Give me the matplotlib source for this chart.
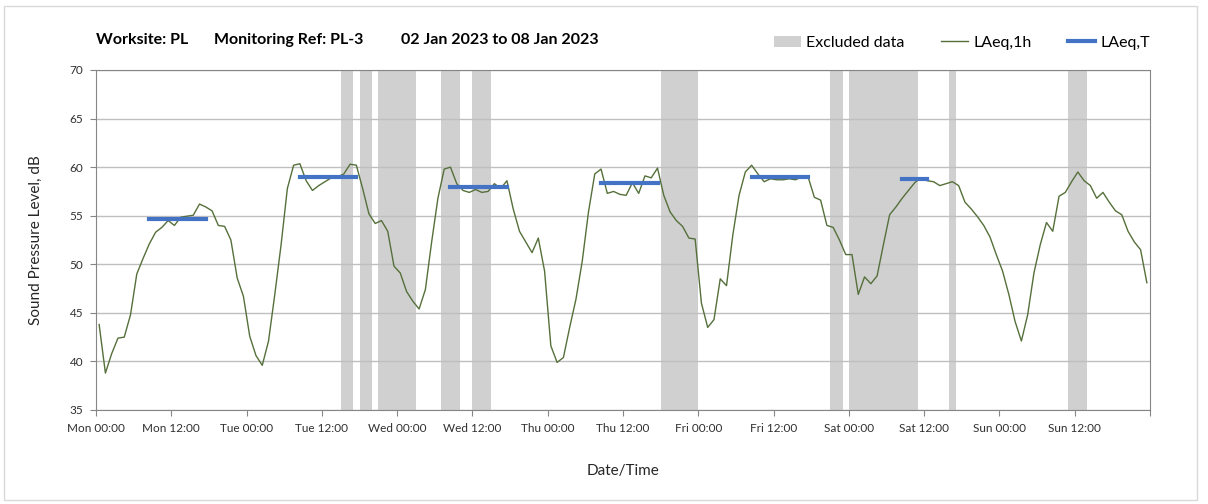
import numpy as np
import matplotlib.pyplot as plt
from matplotlib.patches import Patch, Rectangle
from matplotlib.lines import Line2D

plt.rcParams['font.family'] = ['Lato', 'DejaVu Sans']

# Hourly LAeq values, Mon 00:00 .. Sun 23:00
laeq_1h = [
    43.8, 38.8, 40.8, 42.4, 42.5, 44.8, 49.0, 50.6, 52.1, 53.3, 53.8, 54.5,
    54.0, 54.85, 54.95, 55.05, 56.2, 55.9, 55.5, 54.0, 53.9, 52.5, 48.6, 46.7,
    42.6, 40.6, 39.6, 42.1, 46.9, 52.0, 57.8, 60.2, 60.35, 58.6, 57.6, 58.1,
    58.5, 58.9, 59.0, 59.3, 60.3, 60.2, 57.8, 55.2, 54.2, 54.5, 53.4, 49.8,
    49.1, 47.2, 46.2, 45.4, 47.4, 52.3, 56.8, 59.8, 60.0, 58.3, 57.6, 57.4,
    57.7, 57.4, 57.5, 58.3, 57.8, 58.6, 55.7, 53.4, 52.3, 51.2, 52.7, 49.3,
    41.6, 39.9, 40.4, 43.5, 46.4, 50.3, 55.4, 59.3, 59.8, 57.3, 57.5, 57.2,
    57.1, 58.4, 57.3, 59.1, 58.9, 59.9, 57.1, 55.4, 54.5, 53.9, 52.7, 52.6,
    46.0, 43.5, 44.3, 48.5, 47.8, 53.0, 57.1, 59.5, 60.2, 59.3, 58.5, 58.8,
    58.7, 58.7, 58.8, 58.7, 59.0, 59.0, 56.9, 56.6, 54.0, 53.8, 52.5, 51.0,
    51.0, 46.9, 48.7, 48.0, 48.8, 52.0, 55.1, 55.9, 56.8, 57.6, 58.4, 58.9,
    58.6, 58.5, 58.1, 58.3, 58.5, 58.1, 56.4, 55.7, 54.9, 54.0, 52.8, 51.0,
    49.3, 46.9, 44.1, 42.1, 44.8, 49.1, 52.0, 54.3, 53.4, 57.0, 57.4, 58.5,
    59.5, 58.6, 58.1, 56.8, 57.4, 56.4, 55.5, 55.1, 53.4, 52.3, 51.5, 48.1,
]
hours = np.arange(len(laeq_1h)) + 0.5

# excluded periods (start hour, end hour)
excluded = [(39, 41), (42, 44), (45, 51), (55, 58), (60, 63), (90, 96),
            (117, 119), (120, 131), (136, 137), (155, 158)]

# LAeq,T per working day (first and last hourly index)
period_start = [8, 32, 56, 80, 104, 128]
period_end = [17, 41, 65, 89, 113, 132]
laeq_t = [54.7, 59.0, 58.0, 58.4, 59.0, 58.8]

tick_labels = ['Mon 00:00', 'Mon 12:00', 'Tue 00:00', 'Tue 12:00', 'Wed 00:00',
               'Wed 12:00', 'Thu 00:00', 'Thu 12:00', 'Fri 00:00', 'Fri 12:00',
               'Sat 00:00', 'Sat 12:00', 'Sun 00:00', 'Sun 12:00', '']

green = '#55703a'
blue = '#4472c4'
band = '#d0d0d0'

fig = plt.figure(figsize=(12.08, 5.04), dpi=100)
ax = fig.add_axes([96 / 1208, 1 - 410 / 504, (1150 - 96) / 1208, 340 / 504])

for a, b in excluded:
    ax.axvspan(a, b, color=band, lw=0, zorder=0)

ax.plot(hours, laeq_1h, color=green, lw=1, zorder=3)
for s, e, v in zip(period_start, period_end, laeq_t):
    ax.plot([hours[s], hours[e]], [v, v], color=blue, lw=3, zorder=4)

ax.set_xlim(0, 168)
ax.set_ylim(35, 70)
ax.set_yticks(range(35, 71, 5))
ax.set_xticks(np.arange(len(tick_labels)) * 12)
ax.set_xticklabels(tick_labels)
ax.set_xticks(range(24, 168, 24), minor=True)

ax.grid(axis='y', color='#bfbfbf', lw=1)
ax.grid(axis='x', which='minor', color='#dcdcdc', lw=1)
ax.tick_params(axis='x', which='minor', length=0)
ax.tick_params(which='major', direction='out', length=4, color='#868686',
               labelsize=8.5, labelcolor='#303030', pad=5)

for sp in ax.spines.values():
    sp.set_color('#868686')

ax.set_ylabel('Sound Pressure Level, dB', fontsize=11, labelpad=19, color='#262626')
ax.set_xlabel('Date/Time', fontsize=11, labelpad=22, color='#262626')

# title pieces
fig.text(96 / 1208, 1 - 40 / 504, 'Worksite: PL', fontsize=11.5, fontweight='bold', va='center')
fig.text(214 / 1208, 1 - 40 / 504, 'Monitoring Ref: PL-3', fontsize=11.5, fontweight='bold', va='center')
fig.text(401 / 1208, 1 - 40 / 504, '02 Jan 2023 to 08 Jan 2023', fontsize=11.5, fontweight='bold', va='center')

handles = [Patch(facecolor=band, edgecolor='none'),
           Line2D([], [], color=green, lw=1),
           Line2D([], [], color=blue, lw=3)]
fig.legend(handles, ['Excluded data', 'LAeq,1h', 'LAeq,T'],
           loc='center right', bbox_to_anchor=(1164 / 1208, 1 - 43 / 504),
           ncol=3, frameon=False, fontsize=11.5, handlelength=1.7,
           handletextpad=0.3, columnspacing=2.3)

# chart border
fig.add_artist(Rectangle((4 / 1208, 4 / 504), 1193 / 1208, 494 / 504,
                         transform=fig.transFigure, fill=False,
                         edgecolor='#d9d9d9', lw=1))

fig.savefig('out.png', dpi=100)
